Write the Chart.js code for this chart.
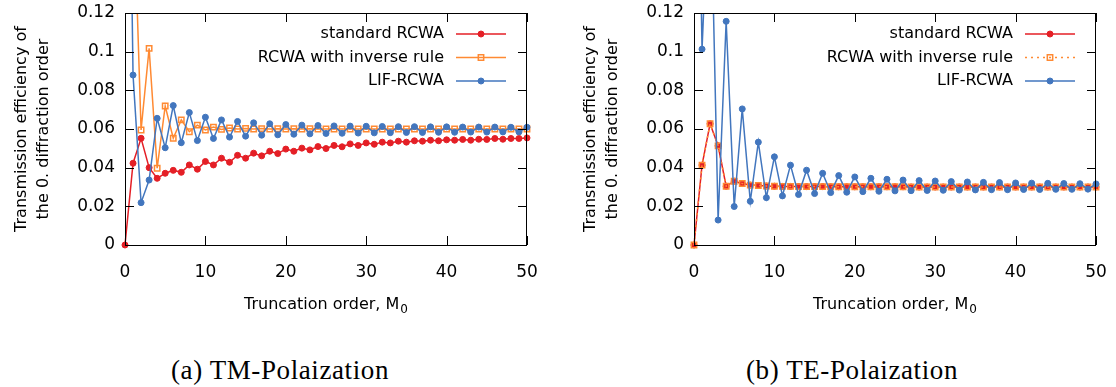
<!DOCTYPE html>
<html>
<head>
<meta charset="utf-8">
<script src="https://cdn.jsdelivr.net/npm/chart.js@4.4.1/dist/chart.umd.min.js"></script>
<style>
  html, body { margin: 0; padding: 0; background: #fff; }
  body { width: 1116px; height: 387px; position: relative; overflow: hidden; }
  canvas { position: absolute; top: 0; }
  #cTM { left: 0; }
  #cTE { left: 569px; }
  .cap { position: absolute; top: 355px; width: 400px; text-align: center; letter-spacing: 0.6px;
         font-family: "Liberation Serif", serif; font-size: 27px; color: #000; }
</style>
</head>
<body>
<canvas id="cTM" width="548" height="330"></canvas>
<canvas id="cTE" width="548" height="330"></canvas>
<div class="cap" style="left:80px">(a) TM-Polaization</div>
<div class="cap" style="left:652px">(b) TE-Polaization</div>
<script>
// Truncation order M0 (x axis)
const orders = [0, 1, 2, 3, 4, 5, 6, 7, 8, 9, 10, 11, 12, 13, 14, 15, 16, 17, 18, 19, 20,
  21, 22, 23, 24, 25, 26, 27, 28, 29, 30, 31, 32, 33, 34, 35, 36, 37, 38, 39, 40,
  41, 42, 43, 44, 45, 46, 47, 48, 49, 50];
const xTicks = [0, 10, 20, 30, 40, 50];
const yTicks = [0, 0.02, 0.04, 0.06, 0.08, 0.1, 0.12];
const seriesNames = ['standard RCWA', 'RCWA with inverse rule', 'LIF-RCWA'];

// (a) TM
const tmStandard = [0, 0.0423, 0.0552, 0.0400, 0.0345, 0.0371, 0.0386, 0.0376, 0.0414, 0.0392,
  0.0432, 0.0414, 0.0449, 0.0428, 0.0464, 0.0449, 0.0475, 0.0461, 0.0485, 0.0473,
  0.0496, 0.0485, 0.0501, 0.0492, 0.0509, 0.0499, 0.0515, 0.0508, 0.0523, 0.0515,
  0.0528, 0.0521, 0.0532, 0.0528, 0.0537, 0.0532, 0.0539, 0.0537, 0.0542, 0.0539,
  0.0544, 0.0542, 0.0546, 0.0542, 0.0547, 0.0546, 0.0551, 0.0547, 0.0551, 0.0551, 0.0554];
const tmInverse = [null, 0.19, 0.0595, 0.1017, 0.0397, 0.0719, 0.0552, 0.0647, 0.0586, 0.0620,
  0.0595, 0.0610, 0.0598, 0.0605, 0.0600, 0.0603, 0.0600, 0.0602, 0.0600, 0.0601,
  0.0600, 0.0601, 0.0600, 0.0601, 0.0600, 0.0600, 0.0600, 0.0600, 0.0600, 0.0600,
  0.0600, 0.0600, 0.0600, 0.0600, 0.0600, 0.0600, 0.0600, 0.0600, 0.0600, 0.0600,
  0.0600, 0.0600, 0.0600, 0.0600, 0.0600, 0.0600, 0.0600, 0.0600, 0.0600, 0.0600, 0.0600];
const tmLif = [0.38, 0.0879, 0.0219, 0.0336, 0.0655, 0.0503, 0.0721, 0.0529, 0.0685, 0.0540,
  0.0661, 0.0551, 0.0647, 0.0558, 0.0639, 0.0563, 0.0632, 0.0568, 0.0627, 0.0570,
  0.0623, 0.0573, 0.0620, 0.0575, 0.0618, 0.0577, 0.0616, 0.0578, 0.0615, 0.0579,
  0.0614, 0.0580, 0.0613, 0.0581, 0.0612, 0.0582, 0.0612, 0.0582, 0.0611, 0.0583,
  0.0611, 0.0583, 0.0610, 0.0584, 0.0610, 0.0584, 0.0610, 0.0585, 0.0609, 0.0585, 0.0609];

// (b) TE
const teStandard = [0, 0.0413, 0.0627, 0.0513, 0.0304, 0.0330, 0.0318, 0.0310, 0.0308, 0.0305,
  0.0304, 0.0303, 0.0303, 0.0302, 0.0302, 0.0302, 0.0302, 0.0301, 0.0301, 0.0301,
  0.0301, 0.0301, 0.0301, 0.0301, 0.0301, 0.0301, 0.0301, 0.0300, 0.0300, 0.0300,
  0.0300, 0.0300, 0.0300, 0.0300, 0.0300, 0.0300, 0.0300, 0.0300, 0.0300, 0.0300,
  0.0300, 0.0300, 0.0300, 0.0300, 0.0300, 0.0300, 0.0300, 0.0300, 0.0300, 0.0300, 0.0300];
const teInverse = [0, 0.0413, 0.0627, 0.0513, 0.0304, 0.0330, 0.0318, 0.0310, 0.0308, 0.0305,
  0.0304, 0.0303, 0.0303, 0.0302, 0.0302, 0.0302, 0.0302, 0.0301, 0.0301, 0.0301,
  0.0301, 0.0301, 0.0301, 0.0301, 0.0301, 0.0301, 0.0301, 0.0300, 0.0300, 0.0300,
  0.0300, 0.0300, 0.0300, 0.0300, 0.0300, 0.0300, 0.0300, 0.0300, 0.0300, 0.0300,
  0.0300, 0.0300, 0.0300, 0.0300, 0.0300, 0.0300, 0.0300, 0.0300, 0.0300, 0.0300, 0.0300];
const teLif = [0.34, 0.1013, 0.20, 0.0129, 0.1157, 0.0199, 0.0704, 0.0226, 0.0532, 0.0245,
  0.0456, 0.0254, 0.0413, 0.0261, 0.0387, 0.0266, 0.0371, 0.0271, 0.0359, 0.0273,
  0.0352, 0.0276, 0.0345, 0.0278, 0.0340, 0.0280, 0.0336, 0.0281, 0.0333, 0.0282,
  0.0331, 0.0283, 0.0328, 0.0284, 0.0326, 0.0285, 0.0324, 0.0286, 0.0323, 0.0286,
  0.0321, 0.0287, 0.0320, 0.0287, 0.0319, 0.0288, 0.0318, 0.0288, 0.0317, 0.0289, 0.0316];

const RED = '#e41f26', ORANGE = '#ff8a33', BLUE = '#4276be';
const FONT = 'DejaVu Sans';
const TICK = 9;

const pts = vals => orders.map((o, i) => ({ x: o, y: vals[i] }));

// gnuplot-like frame with inward ticks, x label with subscript, key top right
const frameKey = {
  id: 'frameKey',
  afterDatasetsDraw(chart) {
    const { ctx, chartArea: a, scales: { x, y } } = chart;
    ctx.save();
    ctx.strokeStyle = '#000';
    ctx.lineWidth = 1;
    ctx.setLineDash([]);
    ctx.beginPath();
    xTicks.forEach(v => {
      const px = Math.round(x.getPixelForValue(v)) + 0.5;
      ctx.moveTo(px, a.bottom); ctx.lineTo(px, a.bottom - TICK);
      ctx.moveTo(px, a.top); ctx.lineTo(px, a.top + TICK);
    });
    yTicks.forEach(v => {
      const py = Math.round(y.getPixelForValue(v)) + 0.5;
      ctx.moveTo(a.left, py); ctx.lineTo(a.left + TICK, py);
      ctx.moveTo(a.right, py); ctx.lineTo(a.right - TICK, py);
    });
    ctx.stroke();
    ctx.strokeRect(Math.round(a.left) + 0.5, Math.round(a.top) + 0.5,
      Math.round(a.width) - 1, Math.round(a.height));

    // x axis label, M with subscript 0
    ctx.fillStyle = '#000';
    ctx.textBaseline = 'alphabetic';
    ctx.textAlign = 'left';
    const main = 'Truncation order, M';
    ctx.font = '16px "' + FONT + '"';
    const wMain = ctx.measureText(main).width;
    ctx.font = '12px "' + FONT + '"';
    const wSub = ctx.measureText('0').width;
    const x0 = (a.left + a.right) / 2 - (wMain + wSub + 1) / 2;
    ctx.font = '16px "' + FONT + '"';
    ctx.fillText(main, x0, a.bottom + 64);
    ctx.font = '12px "' + FONT + '"';
    ctx.fillText('0', x0 + wMain + 1, a.bottom + 68);

    // key
    ctx.font = '16px "' + FONT + '"';
    ctx.textAlign = 'right';
    ctx.textBaseline = 'middle';
    chart.data.datasets.forEach((ds, i) => {
      const ky = a.top + 21 + i * 23.5;
      ctx.fillStyle = '#000';
      ctx.fillText(ds.label, a.right - 83, ky);
      ctx.strokeStyle = ds.borderColor;
      ctx.lineWidth = ds.borderWidth;
      ctx.setLineDash(ds.borderDash || []);
      ctx.beginPath();
      ctx.moveTo(a.right - 71, ky);
      ctx.lineTo(a.right - 21, ky);
      ctx.stroke();
      ctx.setLineDash([]);
      ctx.lineWidth = ds.pointBorderWidth;
      ctx.fillStyle = ds.pointBackgroundColor;
      ctx.strokeStyle = ds.pointBorderColor;
      Chart.helpers.drawPoint(ctx, {
        pointStyle: ds.pointStyle, radius: ds.pointRadius, rotation: 0,
        borderWidth: ds.pointBorderWidth
      }, a.right - 46, ky);
    });
    ctx.restore();
  }
};

function makeChart(id, stdVals, invVals, lifVals, invDash) {
  const base = { borderWidth: 1.5, pointBorderWidth: 1, pointHoverRadius: 3,
    clip: { left: 4, top: 0, right: 4, bottom: 4 }, spanGaps: false };
  return new Chart(document.getElementById(id), {
    type: 'line',
    data: {
      datasets: [
        Object.assign({}, base, {
          label: seriesNames[0], data: pts(stdVals), order: 2,
          borderColor: RED, pointStyle: 'circle', pointRadius: 3,
          pointBackgroundColor: RED, pointBorderColor: RED
        }),
        Object.assign({}, base, {
          label: seriesNames[1], data: pts(invVals), order: 1,
          borderColor: ORANGE, borderDash: invDash, pointStyle: 'rect', pointRadius: 3.8,
          pointBackgroundColor: 'rgba(255,255,255,0)', pointBorderColor: ORANGE,
          pointBorderWidth: 1.5
        }),
        Object.assign({}, base, {
          label: seriesNames[2], data: pts(lifVals), order: 0,
          borderColor: BLUE, pointStyle: 'circle', pointRadius: 3,
          pointBackgroundColor: BLUE, pointBorderColor: BLUE
        })
      ]
    },
    options: {
      responsive: false,
      animation: false,
      layout: { padding: { left: 0, right: 21, top: 13, bottom: 0 } },
      plugins: { legend: { display: false }, tooltip: { enabled: false } },
      elements: { line: { tension: 0 } },
      scales: {
        x: {
          type: 'linear', min: 0, max: 50,
          afterBuildTicks: s => { s.ticks = xTicks.map(v => ({ value: v })); },
          afterFit: s => { s.height = 85; s.paddingLeft = 0; s.paddingRight = 0; },
          grid: { display: false, drawTicks: false },
          border: { display: false },
          ticks: { color: '#000', padding: 17, maxRotation: 0, font: { family: FONT, size: 17 } },
          title: { display: false }
        },
        y: {
          type: 'linear', min: 0, max: 0.12,
          afterBuildTicks: s => { s.ticks = yTicks.map(v => ({ value: v })); },
          afterFit: s => { s.width = 125; s.paddingTop = 0; s.paddingBottom = 0; },
          grid: { display: false, drawTicks: false },
          border: { display: false },
          ticks: {
            color: '#000', padding: 10, font: { family: FONT, size: 17 },
            callback: v => String(+v.toFixed(2))
          },
          title: {
            display: true, text: ['Transmission efficiency of', 'the 0. diffraction order'],
            color: '#000', font: { family: FONT, size: 16, lineHeight: 1.35 },
            padding: { top: 11, bottom: 0 }
          }
        }
      }
    },
    plugins: [frameKey]
  });
}

makeChart('cTM', tmStandard, tmInverse, tmLif, []);
makeChart('cTE', teStandard, teInverse, teLif, [2, 4]);
</script>
</body>
</html>
